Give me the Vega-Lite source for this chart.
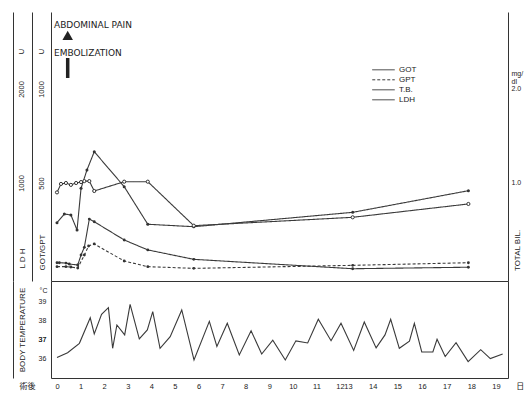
{
  "$schema": "https://vega.github.io/schema/vega-lite/v6.json",
  "padding": {"left": 12, "top": 12, "right": 0, "bottom": 0},
  "background": "white",
  "spacing": 0,
  "bounds": "flush",
  "config": {
    "font": "Liberation Sans",
    "axis": {"grid": false, "ticks": false, "tickSize": 0, "domainColor": "#333", "domainWidth": 1, "labelColor": "#222", "titleColor": "#222", "titleFontWeight": "normal", "labelOverlap": false, "labelFlush": false},
    "text": {"color": "#222"}
  },
  "datasets": {
    "labs": [
      {"series": "GOT", "day": 0, "value": 76}, {"series": "GOT", "day": 0.1, "value": 76}, {"series": "GOT", "day": 0.38, "value": 74}, {"series": "GOT", "day": 0.52, "value": 69}, {"series": "GOT", "day": 0.88, "value": 64}, {"series": "GOT", "day": 1.02, "value": 117}, {"series": "GOT", "day": 1.16, "value": 158}, {"series": "GOT", "day": 1.37, "value": 308}, {"series": "GOT", "day": 1.58, "value": 294}, {"series": "GOT", "day": 2.85, "value": 197}, {"series": "GOT", "day": 3.85, "value": 144}, {"series": "GOT", "day": 5.8, "value": 94}, {"series": "GOT", "day": 13.19, "value": 44}, {"series": "GOT", "day": 17.88, "value": 52},
      {"series": "GPT", "day": 0, "value": 55}, {"series": "GPT", "day": 0.38, "value": 55}, {"series": "GPT", "day": 0.59, "value": 53}, {"series": "GPT", "day": 0.88, "value": 48}, {"series": "GPT", "day": 1.16, "value": 117}, {"series": "GPT", "day": 1.34, "value": 165}, {"series": "GPT", "day": 1.58, "value": 176}, {"series": "GPT", "day": 2.85, "value": 85}, {"series": "GPT", "day": 3.85, "value": 55}, {"series": "GPT", "day": 5.8, "value": 46}, {"series": "GPT", "day": 13.19, "value": 62}, {"series": "GPT", "day": 17.88, "value": 76},
      {"series": "LDH", "day": 0, "value": 578}, {"series": "LDH", "day": 0.31, "value": 670}, {"series": "LDH", "day": 0.59, "value": 660}, {"series": "LDH", "day": 0.85, "value": 500}, {"series": "LDH", "day": 1.02, "value": 944}, {"series": "LDH", "day": 1.27, "value": 1138}, {"series": "LDH", "day": 1.58, "value": 1333}, {"series": "LDH", "day": 2.85, "value": 961}, {"series": "LDH", "day": 3.85, "value": 561}, {"series": "LDH", "day": 5.8, "value": 535}, {"series": "LDH", "day": 13.19, "value": 688}, {"series": "LDH", "day": 17.88, "value": 918},
      {"series": "T.B.", "day": 0, "value": 0.9}, {"series": "T.B.", "day": 0.17, "value": 0.99}, {"series": "T.B.", "day": 0.38, "value": 1.0}, {"series": "T.B.", "day": 0.59, "value": 0.98}, {"series": "T.B.", "day": 0.81, "value": 1.0}, {"series": "T.B.", "day": 1.02, "value": 1.01}, {"series": "T.B.", "day": 1.16, "value": 1.02}, {"series": "T.B.", "day": 1.37, "value": 1.02}, {"series": "T.B.", "day": 1.58, "value": 0.915}, {"series": "T.B.", "day": 2.85, "value": 1.014}, {"series": "T.B.", "day": 3.85, "value": 1.014}, {"series": "T.B.", "day": 5.8, "value": 0.546}, {"series": "T.B.", "day": 13.19, "value": 0.635}, {"series": "T.B.", "day": 17.88, "value": 0.777}
    ],
    "notes": [
      {"kind": "text", "label": "ABDOMINAL PAIN", "day": -0.127, "tb": 2.686},
      {"kind": "text", "label": "EMBOLIZATION", "day": -0.127, "tb": 2.383},
      {"kind": "tri", "label": "", "day": 0.454, "tb": 2.57},
      {"kind": "arrow", "label": "", "day": 0.454, "tb": 2.33, "tb2": 2.117}
    ],
    "temp": [
      {"day": 0, "temp": 36.08}, {"day": 0.45, "temp": 36.33}, {"day": 0.95, "temp": 36.82}, {"day": 1.41, "temp": 38.16}, {"day": 1.58, "temp": 37.31}, {"day": 1.89, "temp": 38.34}, {"day": 2.18, "temp": 38.69}, {"day": 2.36, "temp": 36.56}, {"day": 2.54, "temp": 37.78}, {"day": 2.87, "temp": 37.26}, {"day": 3.1, "temp": 38.86}, {"day": 3.49, "temp": 37.05}, {"day": 3.83, "temp": 37.52}, {"day": 4.06, "temp": 38.48}, {"day": 4.37, "temp": 36.56}, {"day": 4.8, "temp": 37.17}, {"day": 5.29, "temp": 38.57}, {"day": 5.81, "temp": 35.95}, {"day": 6.46, "temp": 37.97}, {"day": 6.78, "temp": 36.66}, {"day": 7.22, "temp": 37.87}, {"day": 7.73, "temp": 36.21}, {"day": 8.23, "temp": 37.48}, {"day": 8.68, "temp": 36.26}, {"day": 9.15, "temp": 36.99}, {"day": 9.68, "temp": 35.95}, {"day": 10.13, "temp": 36.95}, {"day": 10.63, "temp": 36.84}, {"day": 11.08, "temp": 38.08}, {"day": 11.62, "temp": 36.96}, {"day": 12.125, "temp": 37.87}, {"day": 13.23, "temp": 36.45}, {"day": 13.66, "temp": 37.94}, {"day": 14.14, "temp": 36.58}, {"day": 14.5, "temp": 37.26}, {"day": 14.73, "temp": 38.08}, {"day": 15.08, "temp": 36.56}, {"day": 15.49, "temp": 36.93}, {"day": 15.69, "temp": 37.87}, {"day": 15.99, "temp": 36.37}, {"day": 16.44, "temp": 36.37}, {"day": 16.61, "temp": 37.03}, {"day": 16.94, "temp": 36.13}, {"day": 17.38, "temp": 36.85}, {"day": 17.87, "temp": 35.86}, {"day": 18.38, "temp": 36.49}, {"day": 18.77, "temp": 36.02}, {"day": 19.27, "temp": 36.26}
    ],
    "ends": [
      {"label": "術後", "day": -1.251, "temp": 34.55},
      {"label": "日", "day": 19.98, "temp": 34.55}
    ]
  },
  "vconcat": [
    {
      "width": 457,
      "height": 269,
      "view": {"stroke": null},
      "encoding": {
        "x": {"field": "day", "type": "quantitative", "scale": {"domain": [-0.254, 12, 13, 19.486], "range": [0, 289, 297, 457], "nice": false, "zero": false}, "axis": null}
      },
      "layer": [
        {
          "data": {"name": "labs"},
          "transform": [{"filter": "datum.series === 'GOT' || datum.series === 'GPT'"}],
          "encoding": {
            "y": {"field": "value", "type": "quantitative", "scale": {"domain": [-21.28, 1409.6], "nice": false, "zero": false},
              "axis": {"orient": "left", "offset": 19, "values": [500, 1000, 1202], "tickCount": 10, "format": "d", "labelExpr": "datum.value > 1100 ? 'U' : datum.label", "labelAngle": -90, "labelAlign": "center", "labelBaseline": "middle", "labelPadding": -9, "labelFontSize": 7.5, "labelOverlap": false, "title": "GOT/GPT", "titleX": 10.5, "titleY": 240, "titleAngle": -90, "titleAlign": "center", "titleBaseline": "middle", "titleFontSize": 8}}
          },
          "layer": [
            {"mark": {"type": "line", "color": "#3a3a3a", "strokeWidth": 1.1},
              "encoding": {"strokeDash": {"field": "series", "type": "nominal", "scale": {"domain": ["GOT", "GPT", "T.B.", "LDH"], "range": [[1, 0], [3, 2], [1, 0], [1, 0]]},
                "legend": {"orient": "none", "legendX": 327.5, "legendY": 52.8, "title": null, "symbolType": "M-2.5,0H2.5", "symbolSize": 81, "symbolStrokeWidth": 1, "symbolStrokeColor": "#333", "labelFontSize": 8, "labelOffset": 10.5, "rowPadding": 1, "padding": 0, "labelColor": "#222"}}}},
            {"mark": {"type": "point", "filled": true, "color": "#333", "size": 8, "opacity": 1}, "encoding": {"detail": {"field": "series"}}}
          ]
        },
        {
          "data": {"name": "labs"},
          "transform": [{"filter": "datum.series === 'LDH'"}],
          "encoding": {
            "y": {"field": "value", "type": "quantitative", "scale": {"domain": [-42.55, 2819.1], "nice": false, "zero": false},
              "axis": {"orient": "left", "offset": 38, "values": [1000, 2000, 2404], "tickCount": 10, "format": "d", "labelExpr": "datum.value > 2300 ? 'U' : datum.label", "labelAngle": -90, "labelAlign": "center", "labelBaseline": "middle", "labelPadding": -8.4, "labelFontSize": 7.5, "labelOverlap": false, "title": "L D H", "titleX": 9.4, "titleY": 246, "titleAngle": -90, "titleAlign": "center", "titleBaseline": "middle", "titleFontSize": 8}}
          },
          "layer": [
            {"mark": {"type": "line", "color": "#3a3a3a", "strokeWidth": 1.1}, "encoding": {"strokeDash": {"field": "series", "type": "nominal", "scale": {"domain": ["GOT", "GPT", "T.B.", "LDH"], "range": [[1, 0], [3, 2], [1, 0], [1, 0]]}}}},
            {"mark": {"type": "point", "filled": true, "color": "#333", "size": 9, "opacity": 1}}
          ]
        },
        {
          "data": {"name": "labs"},
          "transform": [{"filter": "datum.series === 'T.B.'"}],
          "encoding": {
            "y": {"field": "value", "type": "quantitative", "scale": {"domain": [-0.04255, 2.8191], "nice": false, "zero": false},
              "axis": {"orient": "right", "offset": 0, "values": [1, 2, 2.17], "tickCount": 10, "labelExpr": "datum.value > 2.1 ? ['mg/', ' dl'] : format(datum.value, '.1f')", "labelAlign": "left", "labelBaseline": "middle", "labelPadding": 3, "labelFontSize": 7, "labelLineHeight": 8, "labelOverlap": false, "title": "TOTAL BIL.", "titleX": 9, "titleY": 238, "titleAngle": -90, "titleAlign": "center", "titleBaseline": "middle", "titleFontSize": 8}}
          },
          "layer": [
            {"mark": {"type": "line", "color": "#3a3a3a", "strokeWidth": 1.1}, "encoding": {"strokeDash": {"field": "series", "type": "nominal", "scale": {"domain": ["GOT", "GPT", "T.B.", "LDH"], "range": [[1, 0], [3, 2], [1, 0], [1, 0]]}}}},
            {"mark": {"type": "point", "filled": false, "fill": "white", "stroke": "#333", "strokeWidth": 1, "size": 10, "opacity": 1}}
          ]
        },
        {
          "data": {"name": "notes"},
          "encoding": {
            "y": {"field": "tb", "type": "quantitative", "scale": {"domain": [-0.04255, 2.8191], "nice": false, "zero": false},
              "axis": {"orient": "left", "offset": 0, "labels": false, "ticks": false, "domain": true, "title": null}}
          },
          "layer": [
            {"transform": [{"filter": "datum.kind === 'text'"}], "mark": {"type": "text", "font": "DejaVu Sans", "fontSize": 9, "align": "left", "baseline": "middle", "color": "#222"}, "encoding": {"text": {"field": "label"}}},
            {"transform": [{"filter": "datum.kind === 'tri'"}], "mark": {"type": "point", "shape": "triangle-up", "filled": true, "color": "#222", "size": 110, "opacity": 1}},
            {"transform": [{"filter": "datum.kind === 'arrow'"}], "mark": {"type": "rule", "color": "#222", "strokeWidth": 3.5}, "encoding": {"y2": {"field": "tb2"}}}
          ]
        }
      ],
      "resolve": {"scale": {"y": "independent"}, "axis": {"y": "independent"}}
    },
    {
      "width": 457,
      "height": 97,
      "view": {"stroke": "#333", "strokeWidth": 1},
      "encoding": {
        "x": {"field": "day", "type": "quantitative", "scale": {"domain": [-0.254, 12, 13, 19.486], "range": [0, 289, 297, 457], "nice": false, "zero": false},
          "axis": {"values": [0, 1, 2, 3, 4, 5, 6, 7, 8, 9, 10, 11, 12, 13, 14, 15, 16, 17, 18, 19], "tickCount": 30, "format": "d", "labelPadding": 4, "domain": false, "labelFontSize": 7.5, "labelOverlap": false, "title": null}}
      },
      "layer": [
        {
          "data": {"name": "temp"},
          "mark": {"type": "line", "color": "#3a3a3a", "strokeWidth": 1.1},
          "encoding": {
            "y": {"field": "temp", "type": "quantitative", "scale": {"domain": [35.005, 40.084], "nice": false, "zero": false},
              "axis": {"orient": "left", "offset": 38, "values": [36, 37, 38, 39], "tickCount": 10, "format": "d", "labelAlign": "center", "labelBaseline": "middle", "labelPadding": -29, "labelFontSize": 7, "labelOverlap": false, "labelSeparation": 0, "title": "BODY TEMPERATURE", "titleX": 9.4, "titleY": 48.5, "titleAngle": -90, "titleAlign": "center", "titleBaseline": "middle", "titleFontSize": 8}}
          }
        },
        {
          "data": {"name": "ends"},
          "mark": {"type": "text", "font": "Noto Sans CJK JP", "fontSize": 8, "baseline": "middle", "align": "center", "color": "#222"},
          "encoding": {
            "y": {"field": "temp", "type": "quantitative", "scale": {"domain": [35.005, 40.084], "nice": false, "zero": false},
              "axis": {"orient": "left", "offset": 38, "values": [37], "tickCount": 10, "format": "d", "labels": true, "labelAlign": "center", "labelBaseline": "middle", "labelPadding": -29, "labelFontSize": 7, "labelOverlap": false, "domain": false, "title": "°C", "titleAngle": 0, "titleX": 30, "titleY": 9, "titleAlign": "center", "titleBaseline": "middle", "titleFontSize": 7}},
            "text": {"field": "label"}
          }
        }
      ],
      "resolve": {"scale": {"y": "independent"}, "axis": {"y": "independent"}}
    }
  ]
}
